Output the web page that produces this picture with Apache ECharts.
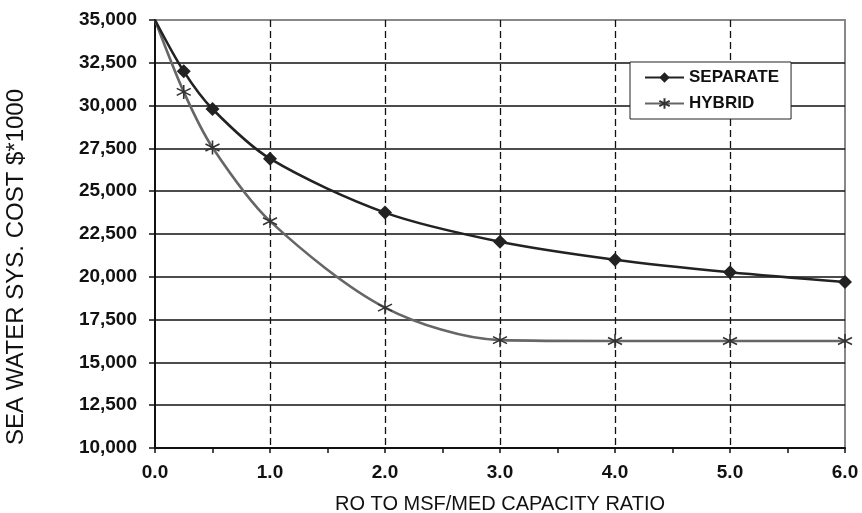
<!DOCTYPE html>
<html>
<head>
<meta charset="utf-8">
<script src="https://cdn.jsdelivr.net/npm/echarts@6/dist/echarts.min.js"></script>
<style>
  html, body { margin: 0; padding: 0; background: #fff; }
  #chart { width: 862px; height: 513px; }
</style>
</head>
<body>
<div id="chart"></div>
<script>
// RO to MSF/MED capacity ratio
var ratios = [0, 0.25, 0.5, 1, 2, 3, 4, 5, 6];
// Sea water system cost ($*1000)
var separateCost = [35000, 32000, 29800, 26900, 23750, 22050, 21000, 20270, 19700];
var hybridCost = [35000, 30800, 27550, 23250, 18200, 16300, 16250, 16250, 16250];

var xTickLabels = ['0.0', '1.0', '2.0', '3.0', '4.0', '5.0', '6.0'];
var seriesNames = ['SEPARATE', 'HYBRID'];

var FONT = '"Liberation Sans", Arial, sans-serif';
var STAR = 'path://M5,0L5,10M0.7,2.5L9.3,7.5M9.3,2.5L0.7,7.5';

function pairs(values) {
  return ratios.map(function (x, i) {
    var item = { value: [x, values[i]] };
    if (i === 0) item.symbol = 'none';
    return item;
  });
}

var chart = echarts.init(document.getElementById('chart'), null, { renderer: 'canvas' });

chart.setOption({
  animation: false,
  backgroundColor: '#fff',
  grid: {
    left: 155, right: 17, top: 20, bottom: 65,
    outerBoundsMode: 'none',
    containLabel: false,
    show: true, borderColor: '#888', borderWidth: 2, backgroundColor: 'transparent'
  },
  legend: {
    orient: 'vertical',
    left: 630, top: 62,
    padding: [7, 12, 7, 14],
    itemGap: 9,
    itemWidth: 39,
    itemHeight: 13,
    backgroundColor: '#fff',
    borderColor: '#222',
    borderWidth: 1,
    borderRadius: 0,
    textStyle: { fontFamily: FONT, fontSize: 17, fontWeight: 'bold', color: '#111' },
    data: seriesNames
  },
  xAxis: {
    type: 'value',
    min: 0, max: 6, interval: 1,
    axisLine: { show: true, lineStyle: { color: '#111', width: 2 } },
    axisTick: { show: true, length: 5, lineStyle: { color: '#111', width: 1.5 } },
    minorTick: { show: true, splitNumber: 2, length: 5, lineStyle: { color: '#111', width: 1.5 } },
    axisLabel: {
      margin: 15,
      fontFamily: FONT, fontSize: 19, fontWeight: 'bold', color: '#111',
      formatter: function (v) { return xTickLabels[Math.round(v)]; }
    },
    splitLine: {
      show: true,
      lineStyle: {
        color: ['rgba(0,0,0,0)', '#111', '#111', '#111', '#111', '#111', 'rgba(0,0,0,0)'],
        type: [7, 4], width: 1.3
      }
    },
    name: 'RO TO MSF/MED CAPACITY RATIO',
    nameLocation: 'middle',
    nameGap: 46,
    nameTextStyle: { fontFamily: FONT, fontSize: 20, color: '#111' }
  },
  yAxis: {
    type: 'value',
    min: 10000, max: 35000, interval: 2500,
    axisLine: { show: true, lineStyle: { color: '#111', width: 2 } },
    axisTick: { show: true, length: 6, lineStyle: { color: '#111', width: 1.5 } },
    axisLabel: {
      margin: 18,
      fontFamily: FONT, fontSize: 19, fontWeight: 'bold', color: '#111',
      formatter: function (v) { return v.toLocaleString('en-US'); }
    },
    splitLine: {
      show: true,
      lineStyle: {
        color: ['rgba(0,0,0,0)', '#111', '#111', '#111', '#111', '#111',
                '#111', '#111', '#111', '#111', '#888'],
        width: 1.5
      }
    }
  },
  graphic: [{
    type: 'text',
    x: 16, y: 267,
    rotation: Math.PI / 2,
    style: {
      text: 'SEA WATER SYS. COST $*1000',
      font: '24px ' + FONT,
      fill: '#111',
      textAlign: 'center',
      textVerticalAlign: 'middle'
    }
  }],
  series: [
    {
      name: seriesNames[0],
      type: 'line',
      data: pairs(separateCost),
      smooth: 0.3,
      symbol: 'diamond',
      symbolSize: 14,
      lineStyle: { color: '#222', width: 2.6 },
      itemStyle: { color: '#222' },
      z: 3
    },
    {
      name: seriesNames[1],
      type: 'line',
      data: pairs(hybridCost),
      smooth: 0.3,
      symbol: STAR,
      symbolSize: 14,
      lineStyle: { color: '#666', width: 2.6 },
      itemStyle: { color: '#444', borderColor: '#333', borderWidth: 1.6 },
      z: 2
    }
  ]
});
</script>
</body>
</html>
